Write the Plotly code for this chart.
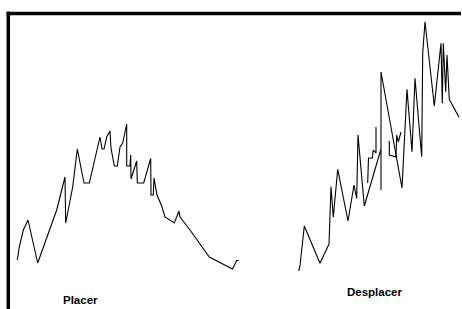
import plotly.graph_objects as go

# Placer series (time, value)
placer_t = [17.3, 19.3, 23.3, 28, 37.7, 56.7, 65, 65.7, 72.7, 77.3, 84, 89.3, 100, 102, 104,
            106.7, 110, 111, 114.3, 117.3, 120, 122.7, 126.7, 126.7, 130, 130.7, 131, 136.7,
            137.3, 143.7, 150.7, 151, 153.3, 154, 157, 161.7, 165, 174.3, 179, 180, 190,
            209.3, 232.5, 236.7, 238.7]
placer_v = [49, 62, 79, 89, 46, 99, 132, 86, 122, 160, 126, 126, 172, 160, 160,
            172, 178, 161, 143, 143, 162, 166, 185, 143, 143, 154, 130, 148,
            126, 126, 150.5, 114, 114, 131, 114, 103, 92, 86, 98, 92, 79,
            52, 40, 48.5, 48.5]

# Desplacer series (time, value); None marks breaks between recorded fragments
desplacer_t = [298.7, 300, 304.3, 320, 329, 331, 333.3, 337.7, 348, 354, 356.7, 358, 364.3,
               381, 381, 381, 402, 407, 412, 415, 421.7, 422.7, 425, 434.3,
               441, 442.3, 443.3, 445.7, 447, 449.3, 459,
               None, 367.7, 368.5, 372.3, 373.3, 376, 376,
               None, 389.3, 389.3, 396, 396.7, 398.3, 401]
desplacer_v = [38, 43.3, 83, 45.7, 65, 122.3, 91.7, 139.7, 88, 124, 110.7, 174, 103,
               160, 119, 237, 121, 219.7, 157.3, 230.7, 152.3, 255.7, 287.3, 203,
               265.7, 205.7, 265.7, 217.3, 254, 209.7, 191.7,
               None, 126, 151, 151, 159, 156, 182,
               None, 168, 154, 152, 174, 167, 177]

labels = ["Placer", "Desplacer"]
label_t = [80, 375]
label_v = [9, 17.5]

fig = go.Figure()
for t, v in [(placer_t, placer_v), (desplacer_t, desplacer_v)]:
    fig.add_trace(go.Scatter(x=t, y=v, mode="lines", connectgaps=False,
                             line=dict(color="black", width=1.1),
                             showlegend=False, hoverinfo="skip"))

for txt, x, y in zip(labels, label_t, label_v):
    fig.add_annotation(x=x, y=y, text="<b>" + txt + "</b>", showarrow=False,
                       font=dict(family="Liberation Sans, Arial", size=11.5, color="black"))

# frame: top and left rules
fig.add_shape(type="line", x0=6.5, x1=461, y0=295.5, y1=295.5,
              line=dict(color="black", width=3.5))
fig.add_shape(type="line", x0=8.3, x1=8.3, y0=-5, y1=297.2,
              line=dict(color="black", width=3.5))

fig.update_layout(
    width=462, height=309,
    margin=dict(l=0, r=0, t=0, b=0),
    paper_bgcolor="white", plot_bgcolor="white",
    xaxis=dict(range=[0, 462], visible=False, fixedrange=True),
    yaxis=dict(range=[0, 309], visible=False, fixedrange=True),
)

fig.write_html("out.html", config={"displayModeBar": False},
               post_script="document.body.style.margin='0';document.body.style.overflow='hidden';")
